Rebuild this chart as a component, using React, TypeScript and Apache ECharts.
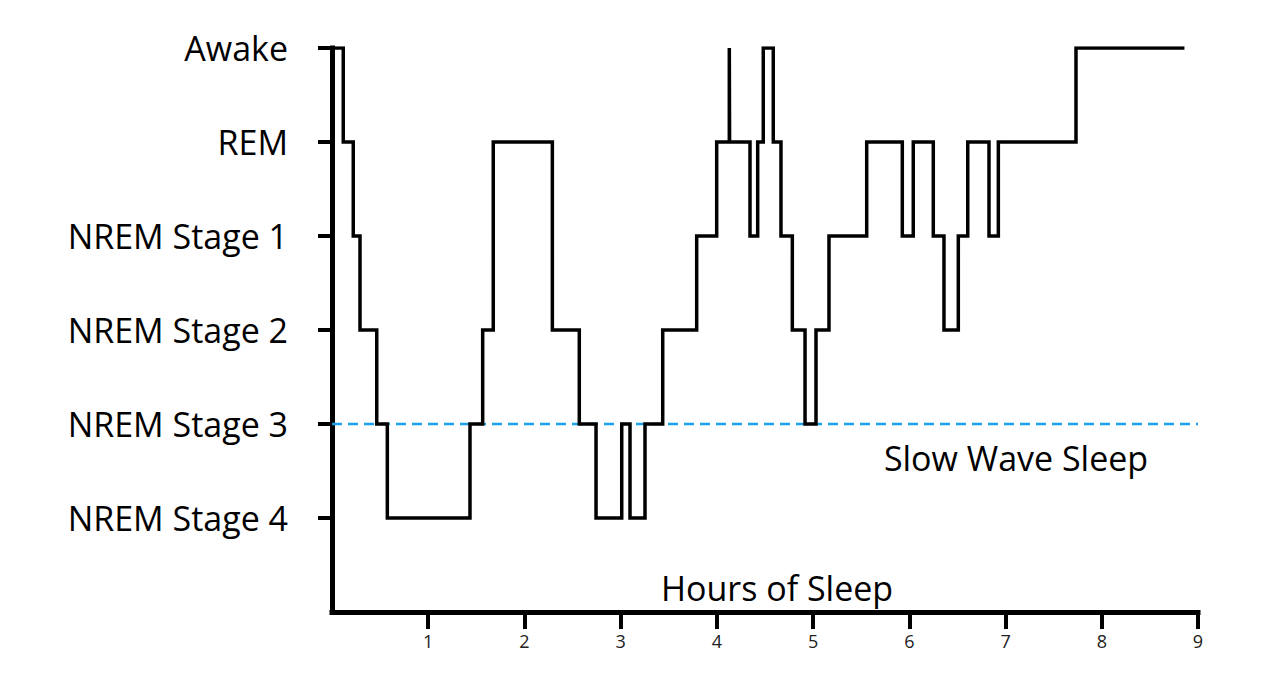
import React, { useEffect, useRef } from "react";
import * as echarts from "echarts";

// Sleep stages: level on the y axis and its label
const stageNames = ["NREM Stage 4", "NREM Stage 3", "NREM Stage 2", "NREM Stage 1", "REM", "Awake"];
const stageMin = 0;
const stageMax = 5;
// Hours shown on the x axis ticks
const hourMin = 0;
const hourMax = 9;
const firstHourTick = 1;

// Hypnogram: time (hours) at which a stage begins, and that stage's level
const changeHours = [
  0, 0.117, 0.221, 0.291, 0.465, 0.575, 1.434, 1.566, 1.676, 2.29, 2.57, 2.744,
  3.011, 3.097, 3.253, 3.437, 3.79, 3.998, 4.129, 4.132, 4.344, 4.424, 4.482,
  4.586, 4.666, 4.784, 4.916, 5.03, 5.165, 5.557, 5.927, 6.041, 6.249, 6.36,
  6.509, 6.607, 6.828, 6.925, 7.732, 8.841,
];
const changeLevels = [
  5, 4, 3, 2, 1, 0, 1, 2, 4, 2, 1, 0,
  1, 0, 1, 2, 3, 4, 5, 4, 3, 4, 5,
  4, 3, 2, 1, 2, 3, 4, 3, 4, 3, 2,
  3, 4, 3, 4, 5, 5,
];

// Slow wave sleep boundary
const swsLevel = 1;
const swsHours = [0, 9];

const FONT = "'Open Sans', sans-serif";

export default function App() {
  const ref = useRef<HTMLDivElement>(null);

  useEffect(() => {
    if (!ref.current) return;
    const chart = echarts.init(ref.current, null, { renderer: "svg" });
    const hypno = changeHours.map((h, i) => [h, changeLevels[i]]);
    const sws = swsHours.map((h) => [h, swsLevel]);

    // plot area
    const L = 332, T = 48, W = 866, H = 564;
    const yBottom = stageMin - 1; // empty band below NREM Stage 4
    const hourW = W / (hourMax - hourMin);
    const levelH = H / (stageMax - yBottom);

    const tickStyle = { color: "#000", width: 4 };
    const lineStyle = { color: "#000", width: 5, cap: "square" };

    chart.setOption({
      animation: false,
      backgroundColor: "#ffffff",
      grid: [
        // data + axis lines
        { left: L, top: T, width: W, height: H, containLabel: false },
        // x ticks/labels from the first hour tick
        { left: L + hourW * (firstHourTick - hourMin), top: T, width: W - hourW * (firstHourTick - hourMin), height: H, containLabel: false },
        // y ticks/labels for the stage levels
        { left: L, top: T, width: W, height: levelH * (stageMax - stageMin), containLabel: false },
      ],
      xAxis: [
        {
          gridIndex: 0, type: "value", min: hourMin, max: hourMax, interval: 1,
          splitLine: { show: false },
          axisLine: { show: true, onZero: false, lineStyle },
          axisTick: { show: false },
          axisLabel: { show: false },
        },
        {
          gridIndex: 1, type: "value", min: firstHourTick, max: hourMax, interval: 1,
          position: "bottom",
          splitLine: { show: false },
          axisLine: { show: false, onZero: false },
          axisTick: { show: true, length: 17, lineStyle: tickStyle },
          axisLabel: { show: true, color: "#222", fontSize: 18, fontFamily: FONT, margin: 20 },
        },
        {
          gridIndex: 2, type: "value", min: hourMin, max: hourMax, show: false,
          axisLine: { onZero: false },
        },
      ],
      yAxis: [
        {
          gridIndex: 0, type: "value", min: yBottom, max: stageMax, interval: 1,
          splitLine: { show: false },
          axisLine: { show: true, onZero: false, lineStyle },
          axisTick: { show: false },
          axisLabel: { show: false },
        },
        {
          gridIndex: 1, type: "value", min: yBottom, max: stageMax, show: false,
          axisLine: { onZero: false },
        },
        {
          gridIndex: 2, type: "value", min: stageMin, max: stageMax, interval: 1,
          position: "left",
          splitLine: { show: false },
          axisLine: { show: false, onZero: false },
          axisTick: { show: true, length: 14, lineStyle: tickStyle },
          axisLabel: {
            show: true,
            formatter: (v: number) => stageNames[v] ?? "",
            color: "#000",
            fontSize: 34,
            fontFamily: FONT,
            margin: 44,
          },
        },
      ],
      graphic: [
        {
          type: "text",
          x: 777,
          y: 588,
          style: { text: "Hours of Sleep", fill: "#000", font: `34px ${FONT}`, textAlign: "center", textVerticalAlign: "middle" },
        },
        {
          type: "text",
          x: 1016,
          y: 458,
          style: { text: "Slow Wave Sleep", fill: "#000", font: `34px ${FONT}`, textAlign: "center", textVerticalAlign: "middle" },
        },
      ],
      series: [
        {
          type: "line", xAxisIndex: 0, yAxisIndex: 0, data: sws, symbol: "none", silent: true,
          lineStyle: { color: "#1a9fe8", width: 2.5, type: [10, 6] },
        },
        {
          type: "line", xAxisIndex: 0, yAxisIndex: 0, data: hypno, step: "end", symbol: "none", silent: true,
          lineStyle: { color: "#000", width: 3.5, join: "miter", cap: "square" },
        },
      ],
    });
    return () => chart.dispose();
  }, []);

  return <div ref={ref} style={{ position: "fixed", left: 0, top: 0, width: 1280, height: 690, background: "#fff" }} />;
}
